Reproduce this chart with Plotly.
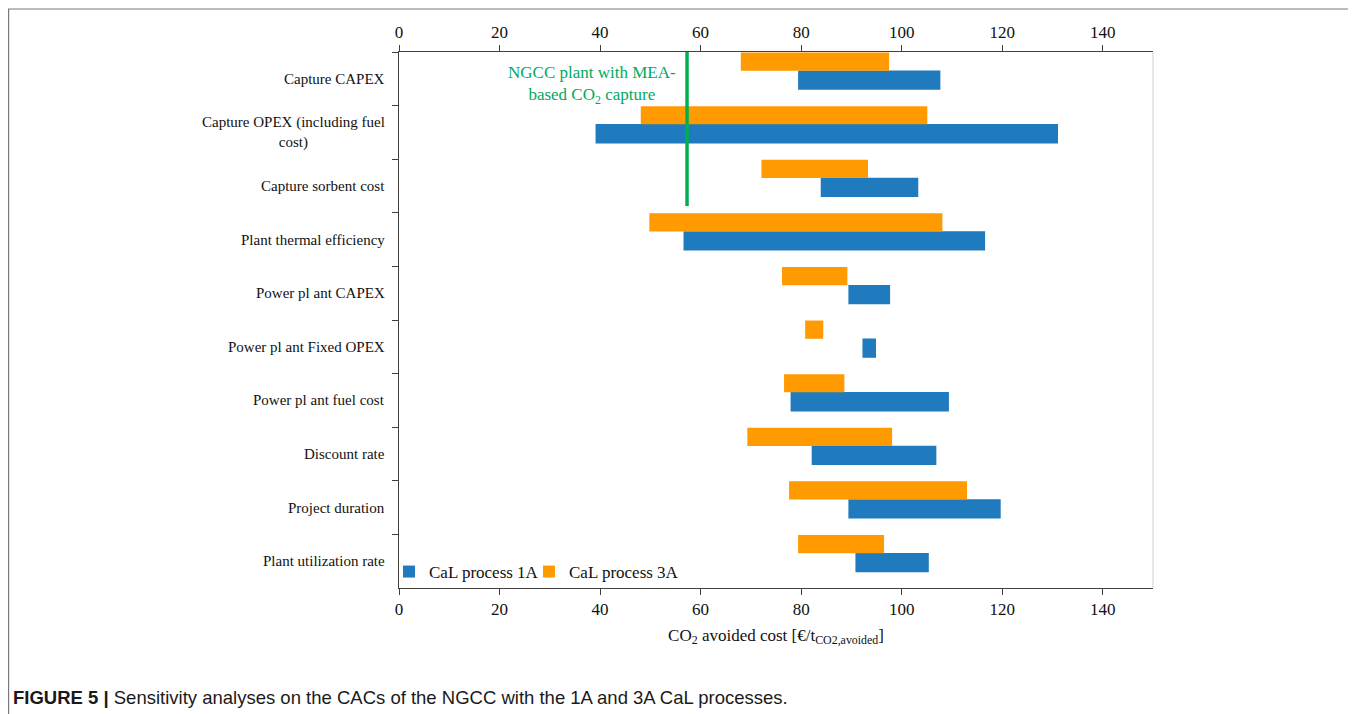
import plotly.graph_objects as go

# ---------------- data ----------------
categories = [
    "Capture CAPEX",
    "Capture OPEX (including fuel<br>cost)",
    "Capture sorbent cost",
    "Plant thermal efficiency",
    "Power pl ant CAPEX",
    "Power pl ant Fixed OPEX",
    "Power pl ant fuel cost",
    "Discount rate",
    "Project duration",
    "Plant utilization rate",
]
cal1a_low = [79.4, 39.1, 83.9, 56.6, 89.4, 92.2, 77.9, 82.1, 89.4, 90.8]
cal1a_high = [107.7, 131.1, 103.3, 116.6, 97.7, 94.9, 109.4, 106.9, 119.7, 105.4]
cal3a_low = [68.0, 48.1, 72.1, 49.8, 76.2, 80.8, 76.6, 69.3, 77.6, 79.4]
cal3a_high = [97.5, 105.1, 93.3, 108.1, 89.2, 84.4, 88.6, 98.1, 113.0, 96.5]
ngcc_mea = 57.3
x_ticks = [0, 20, 40, 60, 80, 100, 120, 140]
x_range = [0, 150]

# ---------------- styling ----------------
BLUE = "#1f7bbd"
ORANGE = "#ff9a00"
GREEN = "#00b050"
SERIF = "Liberation Serif, Times New Roman, serif"
OFF = 8                      # page body margin of the browser
W, H = 1356 - OFF, 714 - OFF
L, T = 399 - OFF, 52 - OFF   # plot area in figure coordinates
PR, PB = 1153 - OFF, 588 - OFF
R, B = W - PR, H - PB
PW, PH = PR - L, PB - T


def px_x(px):  # screen pixel -> paper x
    return (px - OFF - L) / PW


def px_y(py):  # screen pixel -> paper y
    return (PB - (py - OFF)) / PH


fig = go.Figure()
fig.add_trace(go.Bar(
    y=categories, base=cal1a_low,
    x=[h - l for h, l in zip(cal1a_high, cal1a_low)],
    orientation="h", name="CaL process 1A", marker=dict(color=BLUE, line=dict(width=0)),
    offset=-0.155, width=0.36, legend="legend",
))
fig.add_trace(go.Bar(
    y=categories, base=cal3a_low,
    x=[h - l for h, l in zip(cal3a_high, cal3a_low)],
    orientation="h", name="CaL process 3A", marker=dict(color=ORANGE, line=dict(width=0)),
    offset=-0.49, width=0.34, xaxis="x2", legend="legend2",
))

axis_common = dict(
    range=x_range, tickvals=x_ticks, ticks="outside", ticklen=6, tickcolor="#404040",
    showline=True, linecolor="#404040", linewidth=1, showgrid=False, zeroline=False,
    tickfont=dict(family=SERIF, size=17, color="#111"),
)
legend_common = dict(orientation="h", xanchor="left", yanchor="middle", y=px_y(572),
                     bgcolor="rgba(0,0,0,0)", font=dict(family=SERIF, size=17, color="#111"),
                     itemwidth=30)

fig.update_layout(
    width=W, height=H, margin=dict(l=L, r=R, t=T, b=B),
    paper_bgcolor="white", plot_bgcolor="white",
    barmode="overlay", showlegend=True,
    xaxis=dict(**axis_common,
               title=dict(text="CO<sub>2</sub> avoided cost [€/t<sub>CO2,avoided</sub>]",
                          font=dict(family=SERIF, size=17, color="#111"), standoff=10)),
    xaxis2=dict(**axis_common, overlaying="x", side="top", matches="x", anchor="y"),
    yaxis=dict(type="category", range=[len(categories) - 0.5, -0.5], showticklabels=False,
               ticks="outside", tickson="boundaries", ticklen=6, tickcolor="#404040",
               showline=True, linecolor="#404040", linewidth=1, showgrid=False, zeroline=False),
    legend=dict(**legend_common, x=px_x(389)),
    legend2=dict(**legend_common, x=px_x(529)),
)

# category labels (centred multi-line, right anchored)
for cat in categories:
    fig.add_annotation(x=0, xref="paper", y=cat, yref="y", text=cat, showarrow=False,
                       xanchor="right", yanchor="middle", align="center", xshift=-12,
                       font=dict(family=SERIF, size=15, color="#111"))

# NGCC reference line (paper-referenced so it is drawn above all bars) and label
ngcc_paper = (ngcc_mea - x_range[0]) / (x_range[1] - x_range[0])
fig.add_shape(type="line", xref="paper", yref="paper", x0=ngcc_paper, x1=ngcc_paper,
              y0=px_y(206), y1=1.0, line=dict(color=GREEN, width=3.5), layer="above")
fig.add_annotation(x=ngcc_paper, xref="paper", y=px_y(85), yref="paper",
                   text="NGCC plant with MEA-<br>based CO<sub>2</sub> capture",
                   showarrow=False, xanchor="right", yanchor="middle", align="center", xshift=-9,
                   font=dict(family=SERIF, size=17, color="#00a960"))

# right border of plot area
fig.add_shape(type="line", xref="paper", yref="paper", x0=1, x1=1, y0=0, y1=1,
              line=dict(color="#cfcfcf", width=1))

# outer frame
fig.add_shape(type="rect", xref="paper", yref="paper",
              x0=px_x(8.6), x1=px_x(1353), y0=px_y(730), y1=px_y(9),
              line=dict(color="#7a7a7a", width=1.2), layer="below")

# caption
fig.add_annotation(x=px_x(11), xref="paper", y=px_y(697), yref="paper",
                   text="<b>FIGURE 5 |</b> Sensitivity analyses on the CACs of the NGCC with the 1A and 3A CaL processes.",
                   showarrow=False, xanchor="left", yanchor="middle",
                   font=dict(family="Liberation Sans, Arial, sans-serif", size=18.5, color="#1a1a1a"))

fig.write_html("out.html")
